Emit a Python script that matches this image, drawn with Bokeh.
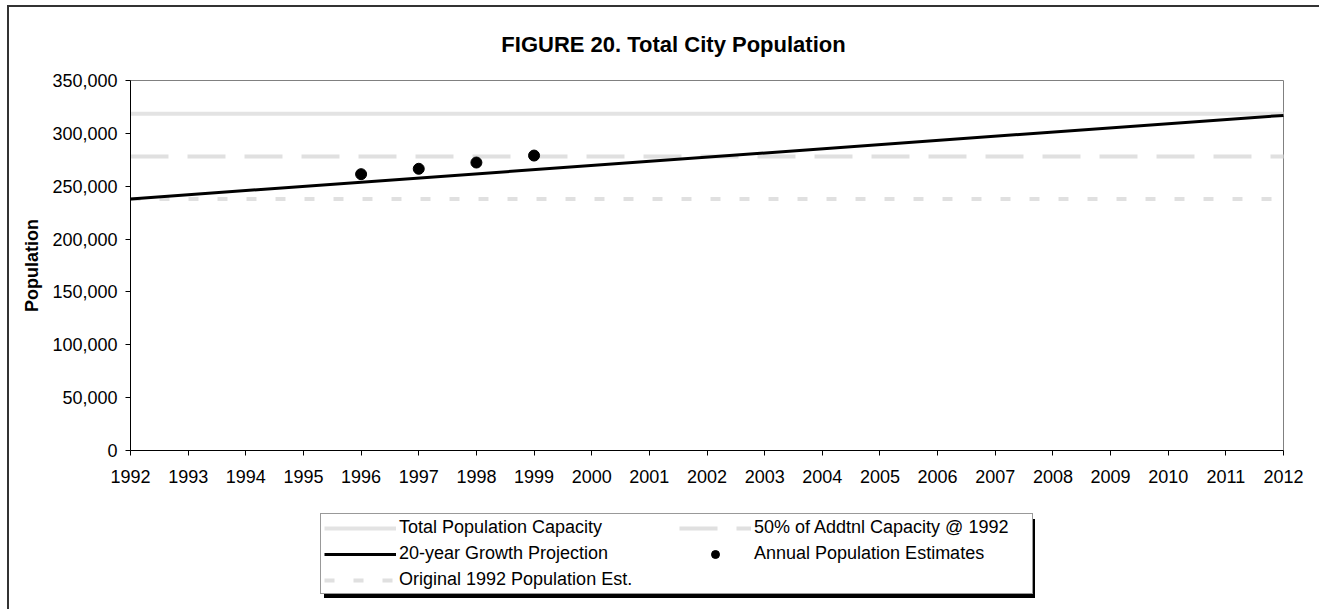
from bokeh.plotting import figure
from bokeh.models import (Range1d, SingleIntervalTicker, NumeralTickFormatter,
                          Legend, LegendItem, Label)
from bokeh.embed import file_html
from bokeh.resources import INLINE

# ---- data ----
x_first, x_last = 1992, 2012
y_first, y_last = 0, 350000
span_years = [1992, 2012]
total_capacity = 318500
original_1992 = 237800
half_addtl = original_1992 + 0.5 * (total_capacity - original_1992)
proj_years = [1992, 2012]
proj_pop = [238000, 317000]
est_years = [1996, 1997, 1998, 1999]
est_pop = [261400, 266500, 272400, 279000]

FONT = "Liberation Sans"
W, H = 1319, 609
# plot-area placement on the canvas (pixels)
PL, PR, PT, PB = 130, 1283, 80, 450
xpp = (x_last - x_first) / (PR - PL)
ypp = (y_last - y_first) / (PB - PT)

p = figure(width=W, height=H, output_backend="svg", toolbar_location=None,
           x_range=Range1d(x_first - PL * xpp, x_last + (W - PR) * xpp),
           y_range=Range1d(y_first - (H - PB) * ypp, y_last + PT * ypp),
           min_border=0)
p.border_fill_color = None
p.background_fill_color = None
p.outline_line_color = None
# outer chart frame (left/top edges) and legend drop shadow, painted behind the canvas
p.styles = {"background": (
    "linear-gradient(#000,#000) 324px 519px / 711px 79px no-repeat, "
    "linear-gradient(#333,#333) 7px 5px / 2px 604px no-repeat, "
    "linear-gradient(#333,#333) 7px 5px / 1312px 2px no-repeat, #ffffff")}

p.xgrid.visible = False
p.ygrid.visible = False

p.xaxis.fixed_location = y_first
p.yaxis.fixed_location = x_first
p.xaxis.bounds = (x_first, x_last)
p.yaxis.bounds = (y_first, y_last)
p.xaxis.ticker = SingleIntervalTicker(interval=1, num_minor_ticks=0)
p.yaxis.ticker = SingleIntervalTicker(interval=50000, num_minor_ticks=0)
p.yaxis.formatter = NumeralTickFormatter(format="0,0")
for ax in (p.xaxis, p.yaxis):
    ax.axis_line_color = "black"
    ax.major_tick_line_color = "black"
    ax.major_tick_in = 0
    ax.major_tick_out = 5
    ax.minor_tick_line_color = None
    ax.major_label_text_font = FONT
    ax.major_label_text_font_size = "18px"
    ax.major_label_text_color = "black"
p.xaxis.major_label_standoff = 14
p.yaxis.major_label_standoff = 8
p.yaxis.axis_label = "Population"
p.yaxis.axis_label_text_font = FONT
p.yaxis.axis_label_text_font_size = "18px"
p.yaxis.axis_label_text_font_style = "bold"
p.yaxis.axis_label_text_color = "black"
p.yaxis.axis_label_standoff = 7

# plot-area border (top and right edges)
p.line([x_first, x_last, x_last], [y_last, y_last, y_first],
       line_color="#808080", line_width=1)

cap = p.line(span_years, [total_capacity] * 2, line_color="#e3e3e3", line_width=4)
half = p.line(span_years, [half_addtl] * 2, line_color="#e0e0e0", line_width=4,
              line_dash="38 19")
orig = p.line(span_years, [original_1992] * 2, line_color="#e0e0e0", line_width=4,
              line_dash="10 19")
proj = p.line(proj_years, proj_pop, line_color="black", line_width=3)
est = p.scatter(est_years, est_pop, size=11, color="black")

title = Label(x=673, y=H - 44, x_units="screen", y_units="screen",
              text="FIGURE 20. Total City Population", text_align="center",
              text_baseline="middle", text_font=FONT, text_font_size="22px",
              text_font_style="bold", text_color="black")
p.add_layout(title)

legend = Legend(
    items=[LegendItem(label="Total Population Capacity", renderers=[cap]),
           LegendItem(label="50% of Addtnl Capacity @ 1992", renderers=[half]),
           LegendItem(label="20-year Growth Projection", renderers=[proj]),
           LegendItem(label="Annual Population Estimates", renderers=[est]),
           LegendItem(label="Original 1992 Population Est.", renderers=[orig])],
    orientation="horizontal", ncols=2,
    location=(320, H - 594), margin=0, padding=3, spacing=5,
    glyph_width=72, glyph_height=20, label_standoff=3, label_width=275,
    label_height=20,
    label_text_font=FONT, label_text_font_size="18px", label_text_color="black",
    border_line_color="#333333", border_line_width=1,
    background_fill_color="white", background_fill_alpha=1.0)
p.add_layout(legend)

open("out.html", "w").write(file_html(p, INLINE))
